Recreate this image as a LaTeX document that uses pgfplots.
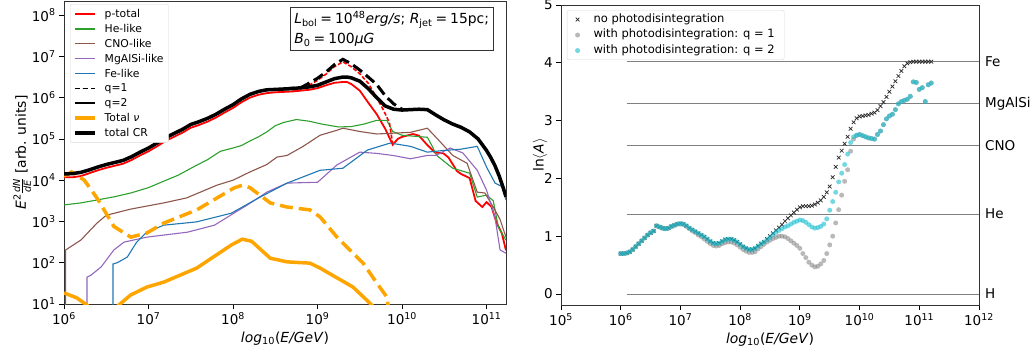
\documentclass[border=0pt]{standalone}
\usepackage{amsmath}
\usepackage{fontspec}
\setmainfont{DejaVu Sans}
\usepackage{pgfplots}
\usepackage{pgfplotstable}
\pgfplotsset{compat=1.18}
\definecolor{mred}{HTML}{FF0000}
\definecolor{mgreen}{HTML}{2CA02C}
\definecolor{mbrown}{HTML}{8C564B}
\definecolor{mpurple}{HTML}{9467BD}
\definecolor{mblue}{HTML}{1F77B4}
\definecolor{morange}{HTML}{FFA500}
\definecolor{mcyan}{HTML}{17BECF}
\newcommand\tickfont{\fontsize{13.5}{16}\selectfont}
\newcommand\labfont{\fontsize{13.9}{17}\selectfont}
\pgfplotstableread{
E nopd qone qtwo
1.000e6 0.70 0.70 0.70
1.122e6 0.70 0.70 0.70
1.259e6 0.71 0.71 0.71
1.413e6 0.73 0.73 0.73
1.585e6 0.77 0.77 0.77
1.778e6 0.82 0.82 0.82
1.995e6 0.87 0.87 0.87
2.239e6 0.92 0.92 0.92
2.512e6 0.97 0.97 0.97
2.818e6 1.02 1.02 1.02
3.162e6 1.06 1.06 1.06
3.548e6 1.09 1.09 1.09
3.981e6 1.18 1.18 1.18
4.467e6 1.16 1.16 1.16
5.012e6 1.14 1.14 1.14
5.623e6 1.13 1.13 1.13
6.310e6 1.14 1.14 1.14
7.079e6 1.17 1.17 1.17
7.943e6 1.19 1.19 1.19
8.913e6 1.21 1.21 1.21
1.000e7 1.22 1.21 1.22
1.122e7 1.21 1.20 1.21
1.259e7 1.18 1.17 1.18
1.413e7 1.14 1.13 1.14
1.585e7 1.11 1.09 1.11
1.778e7 1.08 1.06 1.08
1.995e7 1.05 1.02 1.05
2.239e7 1.02 0.99 1.02
2.512e7 0.99 0.95 0.99
2.818e7 0.95 0.91 0.95
3.162e7 0.91 0.87 0.91
3.548e7 0.88 0.84 0.88
3.981e7 0.87 0.83 0.87
4.467e7 0.88 0.84 0.88
5.012e7 0.91 0.87 0.91
5.623e7 0.94 0.89 0.94
6.310e7 0.95 0.90 0.95
7.079e7 0.95 0.90 0.95
7.943e7 0.93 0.88 0.93
8.913e7 0.90 0.85 0.90
1.000e8 0.86 0.81 0.86
1.122e8 0.82 0.77 0.82
1.259e8 0.79 0.74 0.79
1.413e8 0.77 0.72 0.77
1.585e8 0.77 0.72 0.77
1.778e8 0.79 0.73 0.79
1.995e8 0.83 0.78 0.83
2.239e8 0.87 0.82 0.87
2.512e8 0.90 0.86 0.90
2.818e8 0.95 0.90 0.94
3.162e8 1.00 0.93 0.98
3.548e8 1.05 0.96 1.03
3.981e8 1.10 0.98 1.07
4.467e8 1.15 1.00 1.10
5.012e8 1.20 1.00 1.13
5.623e8 1.26 0.99 1.16
6.310e8 1.31 0.96 1.18
7.079e8 1.36 0.92 1.21
7.943e8 1.41 0.88 1.24
8.913e8 1.46 0.84 1.26
1.000e9 1.50 0.79 1.28
1.122e9 1.52 0.70 1.27
1.259e9 1.52 0.63 1.24
1.413e9 1.52 0.55 1.20
1.585e9 1.53 0.50 1.16
1.778e9 1.55 0.47 1.14
1.995e9 1.58 0.48 1.15
2.239e9 1.62 0.52 1.17
2.512e9 1.68 0.58 1.21
2.818e9 1.76 0.70 1.30
3.162e9 1.86 0.85 1.45
3.548e9 2.02 1.00 1.60
3.981e9 2.20 1.23 1.76
4.467e9 2.36 1.46 1.94
5.012e9 2.48 1.71 2.09
5.623e9 2.60 1.95 2.24
6.310e9 2.72 2.15 2.42
7.079e9 2.86 2.47 2.62
7.943e9 2.97 2.68 2.72
8.913e9 3.04 2.74 2.75
1.000e10 3.07 2.76 2.76
1.122e10 3.08 2.74 2.74
1.259e10 3.09 2.72 2.72
1.413e10 3.10 2.70 2.70
1.585e10 3.12 2.69 2.69
1.778e10 3.14 2.68 2.68
1.995e10 3.18 2.76 2.76
2.239e10 3.25 2.82 2.82
2.512e10 3.32 2.93 2.93
2.818e10 3.41 3.03 3.03
3.162e10 3.50 3.08 3.08
3.548e10 3.59 3.11 3.11
3.981e10 3.68 3.19 3.19
4.467e10 3.77 3.29 3.29
5.012e10 3.86 3.33 3.33
5.623e10 3.94 3.35 3.35
6.310e10 3.99 3.37 3.37
7.079e10 4.01 3.42 3.42
7.943e10 4.02 3.67 3.67
8.913e10 4.02 3.66 3.66
1.000e11 4.02 3.54 3.54
1.122e11 4.02 3.57 3.57
1.259e11 4.02 3.33 3.33
1.413e11 4.02 3.62 3.62
1.585e11 4.02 3.65 3.65
}\lnAdata
\begin{document}
\begin{tikzpicture}
\useasboundingbox (0,0) rectangle (1033pt,354pt);
\begin{axis}[
  at={(64pt,50pt)}, anchor=south west,
  scale only axis, width=442pt, height=303pt,
  xmode=log, ymode=log, log basis x=10, log basis y=10,
  xmin=1e6, xmax=1.7e11, ymin=10, ymax=2.2e8,
  xtick={1e6,1e7,1e8,1e9,1e10,1e11},
  ytick={1e1,1e2,1e3,1e4,1e5,1e6,1e7,1e8},
  xticklabel={10\textsuperscript{\pgfmathparse{int(round(\tick))}\pgfmathresult}},
  yticklabel={10\textsuperscript{\pgfmathparse{int(round(\tick))}\pgfmathresult}},
  tick label style={font=\tickfont},
  tick align=outside, tick pos=left,
  major tick length=4.9pt, minor tick length=2.8pt,
  every tick/.style={black, line width=0.8pt},
  axis line style={line width=0.8pt, black!80},
  xlabel={\textit{log}\textsubscript{10}(\textit{E/GeV})},
  ylabel={\textit{E}\textsuperscript{2}$\frac{\text{\itshape dN}}{\text{\itshape dE}}$ [arb. units]},
  ylabel shift=-6pt,
  label style={font=\labfont},
  legend cell align=left,
  legend style={at={(0.0136,0.99)}, anchor=north west, draw=black!15, rounded corners=2pt,
    fill=white, font=\fontsize{10.8}{12}\selectfont, inner xsep=3pt, inner ysep=3pt, row sep=1.2pt,
    /tikz/every odd column/.append style={column sep=6pt}},
  legend image code/.code={\draw[mark repeat=2,mark phase=2,#1] plot coordinates {(0pt,0pt) (10pt,0pt) (20pt,0pt)};},
]
\addplot[color=mred, line width=1.8pt] coordinates {(1e6,1.175e4) (1.259e6,1.175e4) (1.585e6,1.259e4) (1.995e6,1.479e4) (2.512e6,1.738e4) (3.162e6,1.995e4) (3.981e6,2.239e4) (5.012e6,2.512e4) (6.310e6,3.090e4) (7.943e6,3.981e4) (1e7,5.012e4) (1.259e7,6.607e4) (1.585e7,8.913e4) (1.995e7,1.122e5) (2.512e7,1.413e5) (3.162e7,1.862e5) (3.981e7,2.188e5) (5.012e7,2.630e5) (6.310e7,3.311e5) (7.943e7,4.365e5) (1e8,5.623e5) (1.259e8,7.762e5) (1.585e8,1e6) (1.995e8,1.175e6) (2.512e8,1.288e6) (3.162e8,1.349e6) (3.981e8,1.380e6) (5.012e8,1.413e6) (6.310e8,1.479e6) (7.943e8,1.549e6) (1e9,1.698e6) (1.259e9,1.995e6) (1.585e9,2.291e6) (1.995e9,2.399e6) (2.239e9,2.399e6) (2.512e9,2.138e6) (3.162e9,1.479e6) (3.981e9,7.586e5) (5.012e9,3.981e5) (6.310e9,1.778e5) (7.762e9,7.244e4) (8.913e9,1e5) (1e10,1.122e5) (1.349e10,1.318e5) (1.585e10,1.202e5) (1.995e10,7.079e4) (2.455e10,4.677e4) (3.090e10,4.467e4) (3.548e10,3.548e4) (4.467e10,1.660e4) (5.012e10,1.413e4) (6.310e10,1.122e4) (7.413e10,3.162e3) (8.913e10,2.239e3) (1e11,2.951e3) (1.148e11,2.239e3) (1.318e11,912) (1.514e11,525) (1.698e11,200)};
\addlegendentry{p-total}
\addplot[color=mgreen, line width=1.1pt] coordinates {(1e6,2.512e3) (1.585e6,2.818e3) (2.455e6,3.311e3) (3.981e6,3.981e3) (6.166e6,4.898e3) (1e7,6.607e3) (1.413e7,8.913e3) (2.239e7,1.318e4) (3.388e7,2.089e4) (5.012e7,3.162e4) (7.079e7,5.012e4) (1e8,6.026e4) (1.259e8,6.918e4) (1.585e8,8.913e4) (1.995e8,1.122e5) (2.512e8,1.479e5) (3.162e8,2.089e5) (3.981e8,2.512e5) (5.623e8,2.951e5) (7.943e8,2.692e5) (1.122e9,2.291e5) (1.778e9,1.950e5) (2.512e9,1.995e5) (3.548e9,2.291e5) (5.012e9,2.818e5) (6.607e9,2.818e5) (7.762e9,1.514e5) (1e10,1.230e5) (1.995e10,1.096e5) (2.239e10,7.079e4) (2.570e10,3.981e4) (3.981e10,1.950e4) (6.310e10,1.479e4) (7.762e10,3.890e3) (1e11,4.365e3) (1.202e11,3.162e3) (1.380e11,724) (1.698e11,355)};
\addlegendentry{He-like}
\addplot[color=mbrown, line width=1.1pt] coordinates {(1.047e6,3) (1.047e6,204) (1.585e6,355) (2.455e6,912) (3.162e6,1.413e3) (6.166e6,1.995e3) (1.514e7,2.818e3) (2.818e7,3.715e3) (6.457e7,7.586e3) (1e8,1e4) (1.585e8,1.585e4) (2.512e8,2.399e4) (3.311e8,3.631e4) (4.365e8,3.981e4) (6.761e8,6.607e4) (1.072e9,1.230e5) (1.698e9,1.622e5) (1.995e9,1.820e5) (3.162e9,1.514e5) (5.012e9,1.318e5) (7.943e9,1.380e5) (1.259e10,1.445e5) (1.995e10,1.820e5) (2.630e10,1e5) (3.981e10,3.981e4) (5.888e10,2.570e4) (7.762e10,5.129e3) (9.550e10,4.898e3) (1.202e11,2.239e3) (1.445e11,1.122e3) (1.698e11,417)};
\addlegendentry{CNO-like}
\addplot[color=mpurple, line width=1.1pt] coordinates {(1.871e6,3) (1.871e6,44.7) (2.089e6,50.1) (2.754e6,79.4) (3.890e6,204) (5.129e6,316) (9.550e6,417) (1.514e7,468) (2.884e7,550) (6.026e7,813) (1.023e8,1.585e3) (1.479e8,2.512e3) (2.512e8,5.129e3) (4.365e8,8.511e3) (1e9,8.913e3) (1.698e9,2.344e4) (3.162e9,4.786e4) (5.012e9,4.467e4) (7.762e9,3.981e4) (1.259e10,3.311e4) (1.995e10,3.981e4) (2.512e10,3.981e4) (3.715e10,6.026e4) (5.248e10,4.571e4) (7.762e10,1.738e4) (1e11,5.754e3) (1.259e11,1.259e3) (1.445e11,204) (1.698e11,170)};
\addlegendentry{MgAlSi-like}
\addplot[color=mblue, line width=1.1pt] coordinates {(3.802e6,3) (3.802e6,93.3) (4.266e6,100) (5.623e6,138) (7.244e6,316) (9.550e6,550) (1.514e7,813) (3.715e7,977) (9.550e7,1.585e3) (2.089e8,3.890e3) (4.365e8,8.511e3) (1.072e9,1.738e4) (1.995e9,1.950e4) (3.890e9,5.370e4) (7.244e9,7.943e4) (1.259e10,6.607e4) (1.995e10,4.786e4) (3.090e10,5.248e4) (4.898e10,5.623e4) (7.762e10,6.607e4) (1e11,2.089e4) (1.259e11,8.511e3) (1.514e11,7.079e3) (1.698e11,3.311e3)};
\addlegendentry{Fe-like}
\addlegendimage{color=black, line width=1.5pt, dash pattern=on 5.5pt off 2.4pt}\addlegendentry{q=1}
\addlegendimage{color=black, line width=1.5pt}\addlegendentry{q=2}
\addplot[color=morange, line width=3.5pt] coordinates {(1e6,18.6) (1.413e6,14.1) (1.862e6,9.5) (2.818e6,4) (4.467e6,9.5) (6.166e6,16.6) (9.550e6,25.7) (1.514e7,33.9) (3.715e7,74.1) (9.550e7,269) (1.288e8,372) (1.660e8,331) (2.754e8,129) (4.365e8,105) (8.128e8,97.7) (1.072e9,74.1) (2.630e9,25.7) (4.266e9,10) (5.012e9,7.1)};
\addlegendentry{Total \textit{ν}}
\addplot[color=mred, line width=1.6pt, dash pattern=on 4pt off 2pt, forget plot] coordinates {(5.012e8,1.413e6) (6.310e8,1.514e6) (7.943e8,1.995e6) (1e9,2.630e6) (1.259e9,3.715e6) (1.585e9,5.623e6) (1.995e9,7.413e6) (2.512e9,5.623e6) (3.162e9,3.802e6) (3.981e9,2.239e6) (5.012e9,1e6) (6.026e9,5.012e5) (7.079e9,2.512e5) (7.762e9,7.413e4)};
\addplot[color=morange, line width=3.5pt, dash pattern=on 13pt off 6pt, forget plot] coordinates {(1e6,1.259e4) (1.230e6,1.585e4) (1.738e6,1e4) (2.455e6,3.715e3) (3.890e6,759) (6.166e6,417) (9.550e6,525) (1.514e7,912) (3.715e7,1.905e3) (1.023e8,6.457e3) (1.288e8,7.586e3) (1.585e8,6.607e3) (2.754e8,2.818e3) (4.365e8,2.239e3) (8.128e8,1.905e3) (1.072e9,1.288e3) (1.698e9,417) (2.630e9,170) (3.467e9,97.7) (5.012e9,32.4) (6.607e9,14.8) (6.918e9,7.9)};
\addplot[color=black, line width=3pt, dash pattern=on 11pt off 5pt, forget plot] coordinates {(3.981e8,1.622e6) (5.012e8,1.698e6) (6.310e8,1.738e6) (7.943e8,2.239e6) (1e9,2.951e6) (1.259e9,4.169e6) (1.585e9,6.310e6) (1.995e9,8.511e6) (2.512e9,6.607e6) (3.162e9,4.677e6) (3.981e9,3.162e6) (5.012e9,2.089e6) (6.310e9,1.122e6) (7.943e9,7.079e5) (1e10,5.248e5)};
\addplot[color=black, line width=3.5pt] coordinates {(1e6,1.413e4) (1.259e6,1.445e4) (1.585e6,1.549e4) (1.995e6,1.778e4) (2.512e6,2.089e4) (3.162e6,2.399e4) (3.981e6,2.692e4) (5.012e6,3.020e4) (6.310e6,3.715e4) (7.943e6,4.786e4) (1e7,6.026e4) (1.259e7,7.943e4) (1.585e7,1.072e5) (1.995e7,1.349e5) (2.512e7,1.698e5) (3.162e7,2.239e5) (3.981e7,2.630e5) (5.012e7,3.162e5) (6.310e7,3.981e5) (7.943e7,5.248e5) (1e8,6.761e5) (1.259e8,9.333e5) (1.585e8,1.202e6) (1.995e8,1.413e6) (2.512e8,1.549e6) (3.162e8,1.585e6) (3.981e8,1.622e6) (5.012e8,1.660e6) (6.310e8,1.738e6) (7.943e8,1.820e6) (1e9,1.995e6) (1.259e9,2.399e6) (1.585e9,2.884e6) (1.995e9,3.162e6) (2.239e9,3.162e6) (2.512e9,3.020e6) (3.162e9,2.512e6) (3.981e9,1.660e6) (5.012e9,1e6) (6.310e9,6.310e5) (7.943e9,5.248e5) (1e10,5.012e5) (1.259e10,5.129e5) (1.585e10,5.248e5) (1.995e10,5.129e5) (2.512e10,3.802e5) (3.162e10,2.884e5) (3.981e10,2.291e5) (5.012e10,1.905e5) (6.310e10,1.479e5) (7.943e10,1e5) (1e11,5.248e4) (1.122e11,3.548e4) (1.259e11,2.239e4) (1.413e11,1.259e4) (1.585e11,6.310e3) (1.698e11,3.981e3)};
\addlegendentry{total CR}
\node[draw=black!80, line width=0.8pt, fill=white, anchor=north west, align=left,
  inner xsep=4pt, inner ysep=4pt, font=\fontsize{13.9}{20}\selectfont] at (rel axis cs:0.511,0.98)
  {\textit{L}\textsubscript{bol}\hspace{0.22em}=\hspace{0.22em}10\textsuperscript{48}\textit{erg/s}; \textit{R}\textsubscript{jet}\hspace{0.22em}=\hspace{0.22em}15pc;\\\textit{B}\textsubscript{0}\hspace{0.22em}=\hspace{0.22em}100\textit{μG}};
\end{axis}
\begin{axis}[
  at={(561pt,49pt)}, anchor=south west,
  scale only axis, width=418pt, height=300pt,
  xmode=log, log basis x=10,
  xmin=1e5, xmax=1e12, ymin=-0.19, ymax=5,
  xtick={1e5,1e6,1e7,1e8,1e9,1e10,1e11,1e12}, xminorticks=false,
  xticklabel={10\textsuperscript{\pgfmathparse{int(round(\tick))}\pgfmathresult}},
  ytick={0,1,2,3,4,5}, yticklabels={0,1,2,3,4,5},
  tick label style={font=\tickfont},
  tick align=outside, tick pos=left,
  major tick length=4.9pt,
  every tick/.style={black, line width=0.8pt},
  axis line style={line width=0.8pt, black!80},
  xlabel={\textit{log}\textsubscript{10}(\textit{E/GeV})},
  ylabel={ln$\langle$\textit{A}$\rangle$},
  ylabel shift=-10pt,
  label style={font=\labfont},
  clip mode=individual,
  legend cell align=left,
  legend style={at={(0.014,0.983)}, anchor=north west, draw=black!15, rounded corners=2pt,
    fill=white, fill opacity=0.8, text opacity=1, draw opacity=1,
    font=\fontsize{11.5}{13}\selectfont, inner xsep=8pt, inner ysep=2pt, row sep=1pt,
    /tikz/every odd column/.append style={column sep=12pt},
    nodes={inner sep=1.5pt, text height=8.5pt, text depth=3pt}},
]
\addplot[gray, line width=0.8pt, forget plot] coordinates {(1.26e6,0) (1e12,0)};
\addplot[gray, line width=0.8pt, forget plot] coordinates {(1.26e6,1.386) (1e12,1.386)};
\addplot[gray, line width=0.8pt, forget plot] coordinates {(1.26e6,2.565) (1e12,2.565)};
\addplot[gray, line width=0.8pt, forget plot] coordinates {(1.26e6,3.296) (1e12,3.296)};
\addplot[gray, line width=0.8pt, forget plot] coordinates {(1.26e6,4.025) (1e12,4.025)};
\addplot[only marks, mark=x, mark size=2.6pt, mark options={black!85, line width=0.7pt}] table[x=E,y=nopd]{\lnAdata};
\addlegendentry{no photodisintegration}
\addplot[only marks, mark=*, mark size=2.5pt, mark options={draw opacity=0, fill=gray, fill opacity=0.55}] table[x=E,y=qone]{\lnAdata};
\addlegendentry{with photodisintegration: q = 1}
\addplot[only marks, mark=*, mark size=2.5pt, mark options={draw opacity=0, fill=mcyan, fill opacity=0.6}] table[x=E,y=qtwo]{\lnAdata};
\addlegendentry{with photodisintegration: q = 2}
\node[anchor=west, font=\tickfont, inner sep=0pt, xshift=6pt] at (axis cs:1e12,4.025) {Fe};
\node[anchor=west, font=\tickfont, inner sep=0pt, xshift=6pt] at (axis cs:1e12,3.296) {MgAlSi};
\node[anchor=west, font=\tickfont, inner sep=0pt, xshift=6pt] at (axis cs:1e12,2.565) {CNO};
\node[anchor=west, font=\tickfont, inner sep=0pt, xshift=6pt] at (axis cs:1e12,1.386) {He};
\node[anchor=west, font=\tickfont, inner sep=0pt, xshift=6pt] at (axis cs:1e12,0) {H};
\end{axis}
\end{tikzpicture}
\end{document}
